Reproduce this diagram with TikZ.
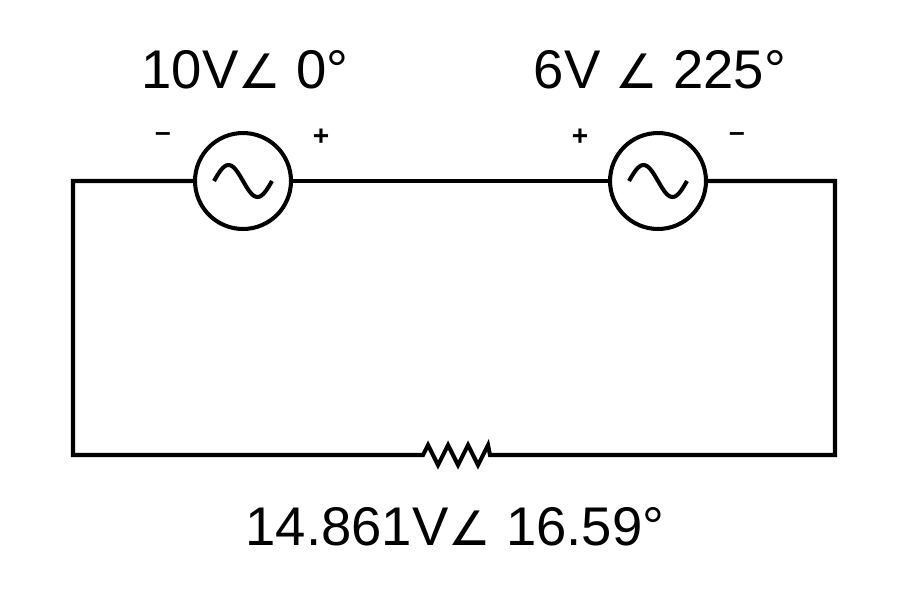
\documentclass[tikz,border=0pt]{standalone}
\usepackage{fontspec}
\setmainfont{Liberation Sans}
\newfontfamily\symfont{DejaVu Sans}
\begin{document}
\begin{tikzpicture}[x=0.02cm,y=-0.02cm,
  wire/.style={line width=2.3pt,line join=miter},
  lbl/.style={font=\fontsize{31}{34}\selectfont},
  pm/.style={font=\fontsize{16}{18}\selectfont\bfseries}]
\useasboundingbox (0,0) rectangle (912,592);
\coordinate (tl) at (73,181); \coordinate (tr) at (835,181);
\coordinate (bl) at (73,455); \coordinate (br) at (835,455);
\node[circle,draw,line width=2.3pt,minimum size=48*0.04cm,inner sep=0] (s1) at (243,181) {};
\node[circle,draw,line width=2.3pt,minimum size=48*0.04cm,inner sep=0] (s2) at (658,181) {};
\coordinate (r1) at (423,455); \coordinate (r2) at (490,455);
\draw[wire] (s1.west) -- (tl) -- (bl) -- (r1)
  -- ++(5,-10) -- ++(10,20) -- ++(10,-20) -- ++(10,20) -- ++(10,-20) -- ++(10,20) -- ++(10,-20) -- (r2)
  -- (br) -- (tr) -- (s2.east);
\draw[wire] (s1.east) -- (s2.west);
\foreach \cx in {243,658}{
  \begin{scope}[shift={(\cx-29,181)}]
  \draw[line width=2.3pt] plot[domain=0:360,samples=40,smooth] ({\x/360*58},{-16*sin(\x)});
  \end{scope}
}
\node[lbl] (l1) at (245,70) {10V{\symfont\fontsize{27}{30}\selectfont ∠} 0°};
\node[lbl] (l2) at (660,70) {6V {\symfont\fontsize{27}{30}\selectfont ∠} 225°};
\node[lbl] (l3) at (455,527) {14.861V{\symfont\fontsize{27}{30}\selectfont ∠} 16.59°};
\node[pm] (m1) at (163,137) {–};
\node[pm] (p1) at (321,137) {+};
\node[pm] (p2) at (580,137) {+};
\node[pm] (m2) at (737,137) {–};
\end{tikzpicture}
\end{document}
